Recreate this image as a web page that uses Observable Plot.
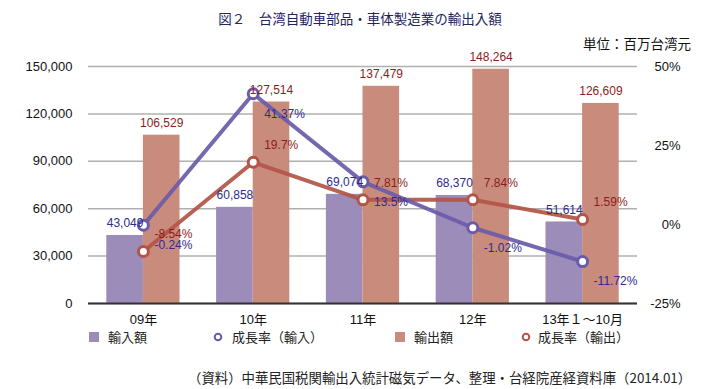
<!DOCTYPE html>
<html>
<head>
<meta charset="utf-8">
<script src="https://cdn.jsdelivr.net/npm/d3@7"></script>
<script src="https://cdn.jsdelivr.net/npm/@observablehq/plot@0.6"></script>
<style>
  html, body { margin: 0; padding: 0; background: #fff; }
  #wrap { position: relative; width: 705px; height: 389px; overflow: hidden; font-family: "Liberation Sans", Arial, "Noto Sans CJK JP", sans-serif; }
  .abs { position: absolute; white-space: nowrap; }
  .jp { font-family: "Noto Sans CJK JP", sans-serif; }
  #title { top: 8px; left: 0; width: 720px; text-align: center; font-size: 13.5px; color: #23245e; }
  #unit { top: 33px; right: 14px; font-size: 13.5px; color: #111; }
  #chart { position: absolute; top: 50px; left: 0; }
  #caption { top: 367px; left: 188px; font-size: 13.4px; color: #222; }
  .leg { top: 328px; font-size: 13px; color: #222; line-height: 18px; }
</style>
</head>
<body>
<div id="wrap">
  <div id="title" class="abs jp">図２　台湾自動車部品・車体製造業の輸出入額</div>
  <div id="unit" class="abs jp">単位：百万台湾元</div>
  <div id="chart"></div>
  <div id="legend"></div>
  <div id="caption" class="abs jp">（資料）中華民国税関輸出入統計磁気データ、整理・台経院産経資料庫（2014.01）</div>
</div>
<script>
const categories = ["09年", "10年", "11年", "12年", "13年１〜10月"];
const importValues = [43049, 60858, 69074, 68370, 51614];
const exportValues = [106529, 127514, 137479, 148264, 126609];
const importGrowth = [-0.24, 41.37, 13.5, -1.02, -11.72];
const exportGrowth = [-8.54, 19.7, 7.81, 7.84, 1.59];
const leftTicks = [0, 30000, 60000, 90000, 120000, 150000];
const rightTicks = [-25, 0, 25, 50];
const legendLabels = ["輸入額", "成長率（輸入）", "輸出額", "成長率（輸出）"];

const cImpBar = "#9c8cba", cExpBar = "#c98b7c";
const cImpLine = "#6a5ba8", cExpLine = "#b25546";
const cImpText = "#2e2b8c", cExpText = "#8c1c1c";

const yMax = 150000;
const pctToY = p => (p + 25) / 75 * yMax;
const yToPct = v => Math.round(v / yMax * 75 - 25);

const rows = categories.map((c, i) => ({
  cat: c, imp: importValues[i], exp: exportValues[i], gi: importGrowth[i], ge: exportGrowth[i]
}));

const W = 705, H = 280, mL = 88, mR = 68;
const step = (W - mL - mR) / categories.length;
const bw = step * 2 / 3;
const fmt = d3.format(",");

const chart = Plot.plot({
  width: W, height: H,
  marginTop: 16, marginBottom: 27, marginLeft: mL, marginRight: mR,
  style: { fontFamily: "'Liberation Sans', Arial, 'Noto Sans CJK JP', sans-serif", fontSize: "13px", color: "#111", background: "transparent" },
  x: { type: "band", domain: categories, paddingInner: 1/3, paddingOuter: 1/6, round: false },
  y: { domain: [0, yMax] },
  marks: [
    Plot.gridY(leftTicks, { stroke: "#b0b0b0", strokeOpacity: 1, strokeWidth: 1.5 }),
    Plot.barY(rows, { x: "cat", y: "imp", fill: cImpBar, insetRight: bw / 2 }),
    Plot.barY(rows, { x: "cat", y: "exp", fill: cExpBar, insetLeft: bw / 2 }),
    Plot.ruleY([0], { stroke: "#333", strokeWidth: 2 }),
    Plot.axisY({ ticks: leftTicks, anchor: "left", tickSize: 0, tickPadding: 16, tickFormat: fmt, label: null, fontSize: 13 }),
    Plot.axisY({ ticks: rightTicks.map(pctToY), anchor: "right", tickSize: 0, tickPadding: 43, textAnchor: "end", tickFormat: v => yToPct(v) + "%", label: null, fontSize: 13 }),
    Plot.axisX({ tickSize: 0, tickPadding: 11, label: null, fontSize: 13, fontFamily: "'Liberation Sans', Arial, 'Noto Sans CJK JP', sans-serif" }),
    Plot.lineY(rows, { x: "cat", y: d => pctToY(d.ge), stroke: cExpLine, strokeWidth: 4, strokeOpacity: 0.92 }),
    Plot.dot(rows, { x: "cat", y: d => pctToY(d.ge), r: 5, fill: "white", stroke: cExpLine, strokeWidth: 3 }),
    Plot.lineY(rows, { x: "cat", y: d => pctToY(d.gi), stroke: cImpLine, strokeWidth: 4, strokeOpacity: 0.92 }),
    Plot.dot(rows, { x: "cat", y: d => pctToY(d.gi), r: 5, fill: "white", stroke: cImpLine, strokeWidth: 3 }),
    Plot.text(rows, { x: "cat", y: "imp", text: d => fmt(d.imp), dx: -bw / 4, dy: -12, fill: cImpText, fontSize: 12 }),
    Plot.text(rows, { x: "cat", y: "exp", text: d => fmt(d.exp), dx: bw / 4, dy: -12, fill: cExpText, fontSize: 12 }),
    Plot.text(rows, { x: "cat", y: d => pctToY(d.gi), text: d => d.gi + "%", dx: 11, dy: 20, textAnchor: "start", fill: cImpText, fontSize: 12 }),
    Plot.text(rows, { x: "cat", y: d => pctToY(d.ge), text: d => d.ge + "%", dx: 11, dy: -17, textAnchor: "start", fill: cExpText, fontSize: 12 })
  ]
});
document.getElementById("chart").appendChild(chart);

// legend
const legendItems = [
  { kind: "square", color: cImpBar, mx: 89, tx: 108 },
  { kind: "circle", color: cImpLine, mx: 212, tx: 232 },
  { kind: "square", color: cExpBar, mx: 395, tx: 414 },
  { kind: "circle", color: cExpLine, mx: 520, tx: 538 }
];
const wrap = document.getElementById("wrap");
legendItems.forEach((it, i) => {
  const m = document.createElementNS("http://www.w3.org/2000/svg", "svg");
  m.setAttribute("width", 12); m.setAttribute("height", 12);
  m.style.position = "absolute"; m.style.left = it.mx + "px"; m.style.top = "331px";
  if (it.kind === "square") {
    m.innerHTML = `<rect x="0" y="1" width="10" height="10" fill="${it.color}"/>`;
  } else {
    m.innerHTML = `<circle cx="6" cy="6" r="3.3" fill="white" stroke="${it.color}" stroke-width="2"/>`;
  }
  wrap.appendChild(m);
  const t = document.createElement("div");
  t.className = "abs leg jp";
  t.style.left = it.tx + "px";
  t.textContent = legendLabels[i];
  wrap.appendChild(t);
});
</script>
</body>
</html>
